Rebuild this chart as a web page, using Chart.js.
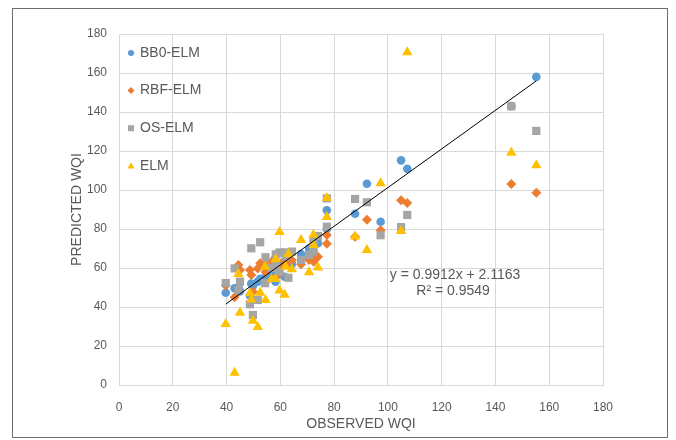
<!DOCTYPE html>
<html>
<head>
<meta charset="utf-8">
<script src="https://cdn.jsdelivr.net/npm/chart.js@4/dist/chart.umd.min.js"></script>
<style>
  html, body { margin: 0; padding: 0; background: #fff; }
  #wrap { width: 676px; height: 440px; }
</style>
</head>
<body>
<div id="wrap"><canvas id="wqiChart" width="676" height="440"></canvas></div>
<script>
// observed WQI (shared by all models) and predicted WQI per model
const observed = [39.7, 43.0, 44.4, 45.0, 48.7, 49.2, 49.8, 51.6, 52.5, 54.3, 54.5, 56.8,
  58.2, 58.3, 59.7, 59.7, 61.6, 62.0, 63.0, 64.3, 67.7, 70.7, 72.3, 72.4, 74.0, 77.3,
  77.3, 87.8, 92.2, 97.3, 104.9, 107.2, 145.9, 155.2];
const bb0Elm = [47.3, 49.6, 50, 48, 45.9, 52, 50.8, 53, 54.5, 55, 53, 57.3,
  53, 55.5, 60, 62, 55.5, 63, 64, 62, 67.2, 70, 69, 74, 72.7, 89.6,
  80, 87.8, 103.2, 83.7, 115.2, 110.9, 143, 158];
const rbfElm = [51, 45, 61.5, 59, 59, 56.4, 47.8, 59.8, 62.4, 61.5, 58, 63.2,
  62.4, 65.8, 60, 57, 64, 62, 66, 64, 61.9, 64.1, 67, 63.2, 65.8, 76.9,
  72.5, 76, 84.8, 79.3, 94.7, 93.3, 103.1, 98.6];
const osElm = [52.3, 59.8, 48.7, 53, 41.4, 70.1, 35.9, 43.6, 73.2, 52.2, 65.5, 60,
  62, 67, 68, 58, 68, 66, 55, 68.4, 64.1, 66.7, 68.4, 74, 76.4, 95.7,
  81.2, 95.4, 93.7, 76.8, 81, 87.2, 142.9, 130.3];
const elm = [31.3, 6.3, 56.9, 37.1, 47, 43.9, 33, 29.7, 47.3, 60.7, 43.6, 54.4,
  54.4, 64.5, 78.5, 48.4, 46.3, 60.7, 67.2, 59.3, 74.4, 57.8, 77.1, 71.8, 60.2, 95.9,
  86.2, 76.1, 69.2, 103.4, 79, 170.6, 119.1, 112.7];

const seriesNames = ['BB0-ELM', 'RBF-ELM', 'OS-ELM', 'ELM'];
const seriesColors = ['#5b9bd5', '#ed7d31', '#a5a5a5', '#ffc000'];
const seriesShapes = ['circle', 'rectRot', 'rect', 'triangle'];
const axisMin = 0, axisMax = 180, axisStep = 20;

// linear trendline shown on the chart
const trendSlope = 0.9912;
const trendIntercept = 2.1163;
const trendR2 = 0.9549;

const textColor = '#595959';
const gridColor = '#d9d9d9';
const fontFamily = '"Liberation Sans", Arial, sans-serif';

const toPoints = (ys) => observed.map((x, i) => ({ x: x, y: ys[i] }));
const xLo = Math.min(...observed), xHi = Math.max(...observed);
const trendPoints = [xLo, xHi].map(x => ({ x: x, y: trendSlope * x + trendIntercept }));

const radii = [4.3, 5, 5.8, 6];
const allSeries = [bb0Elm, rbfElm, osElm, elm];

const datasets = allSeries.map((ys, i) => ({
  label: seriesNames[i],
  data: toPoints(ys),
  showLine: false,
  pointStyle: seriesShapes[i],
  pointRadius: radii[i],
  pointHoverRadius: radii[i],
  pointBackgroundColor: seriesColors[i],
  pointBorderWidth: 0,
  order: 3 - i
}));
datasets.push({
  label: 'trend',
  data: trendPoints,
  showLine: true,
  borderColor: '#000',
  borderWidth: 1,
  pointRadius: 0,
  order: -1
});

function marker(ctx, shape, x, y, r) {
  ctx.beginPath();
  if (shape === 'circle') {
    ctx.arc(x, y, r, 0, Math.PI * 2);
  } else if (shape === 'rectRot') {
    ctx.moveTo(x, y - r); ctx.lineTo(x + r, y); ctx.lineTo(x, y + r); ctx.lineTo(x - r, y);
  } else if (shape === 'rect') {
    ctx.rect(x - r, y - r, r * 2, r * 2);
  } else {
    ctx.moveTo(x, y - r); ctx.lineTo(x + r, y + r * 0.75); ctx.lineTo(x - r, y + r * 0.75);
  }
  ctx.closePath();
  ctx.fill();
}

const framePlugin = {
  id: 'frame',
  beforeDraw(chart) {
    const ctx = chart.ctx;
    ctx.save();
    ctx.fillStyle = '#fff';
    ctx.fillRect(0, 0, chart.width, chart.height);
    ctx.strokeStyle = '#6e6e6e';
    ctx.lineWidth = 1;
    ctx.strokeRect(12.5, 8.5, 655, 429);
    ctx.restore();
  }
};

const extrasPlugin = {
  id: 'extras',
  afterDraw(chart) {
    const ctx = chart.ctx;
    const area = chart.chartArea;
    ctx.save();
    // legend inside the plot area
    ctx.font = '14px ' + fontFamily;
    ctx.textBaseline = 'middle';
    ctx.textAlign = 'left';
    const legendR = [3, 3.5, 3, 3.5];
    seriesNames.forEach((name, i) => {
      const y = area.top + 19 + i * 37.6;
      ctx.fillStyle = seriesColors[i];
      marker(ctx, seriesShapes[i], area.left + 12, y, legendR[i]);
      ctx.fillStyle = textColor;
      ctx.fillText(name, area.left + 21, y);
    });
    // trendline equation
    const xs = chart.scales.x, ys = chart.scales.y;
    const ex = xs.getPixelForValue(125);
    const ey = ys.getPixelForValue(56.4);
    ctx.textAlign = 'center';
    ctx.fillText('y = ' + trendSlope.toFixed(4) + 'x + ' + trendIntercept.toFixed(4), ex, ey);
    ctx.fillText('R\u00b2 = ' + trendR2.toFixed(4), ex - 2, ey + 16);
    ctx.restore();
  }
};

new Chart(document.getElementById('wqiChart'), {
  type: 'scatter',
  data: { datasets: datasets },
  options: {
    responsive: false,
    animation: false,
    devicePixelRatio: 1,
    layout: { padding: { top: 34, right: 73, left: 0, bottom: 0 } },
    plugins: {
      legend: { display: false },
      tooltip: { enabled: false }
    },
    scales: {
      x: {
        type: 'linear',
        min: axisMin, max: axisMax,
        ticks: { stepSize: axisStep, color: textColor, padding: 15, font: { family: fontFamily, size: 12 } },
        grid: { color: gridColor, drawTicks: false },
        border: { color: gridColor },
        title: { display: true, text: 'OBSERVED WQI', color: textColor, padding: { bottom: 7 }, font: { family: fontFamily, size: 14 } },
        afterFit(scale) { scale.height = 55; }
      },
      y: {
        type: 'linear',
        min: axisMin, max: axisMax,
        ticks: { stepSize: axisStep, color: textColor, padding: 12, font: { family: fontFamily, size: 12 } },
        grid: { color: gridColor, drawTicks: false },
        border: { color: gridColor },
        title: { display: true, text: 'PREDICTED WQI', color: textColor, padding: { top: 69 }, font: { family: fontFamily, size: 14 } },
        afterFit(scale) { scale.width = 119; }
      }
    }
  },
  plugins: [framePlugin, extrasPlugin]
});
</script>
</body>
</html>
